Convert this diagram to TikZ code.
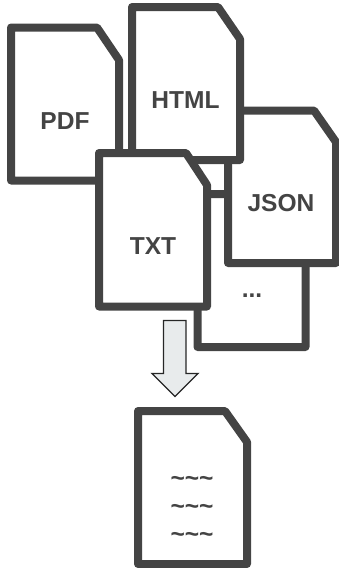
\documentclass[tikz,border=0pt]{standalone}
\usepackage{fontspec}
\setmainfont{Liberation Sans}
\definecolor{ink}{HTML}{444444}
\definecolor{arrowfill}{HTML}{E8EBEC}
\newcommand{\docshape}[6]{% left top right bottom chamferx chamfery
  \draw[docline] (#1,#2) -- (#5,#2) -- (#3,#6) -- (#3,#4) -- (#1,#4) -- cycle;}
\tikzset{
  docline/.style={draw=ink,fill=white,line width=6pt,line join=round},
  doclabel/.style={font=\fontsize{18.4}{22}\selectfont\bfseries,text=ink,inner sep=0pt,anchor=base},
  downarrow/.style={draw=black!85,fill=arrowfill,line width=1pt,line join=miter}
}
\begin{document}
\begin{tikzpicture}[x=0.75pt,y=-0.75pt]
\useasboundingbox (0,0) rectangle (339,568);
\docshape{197.5}{194}{305.5}{347}{283}{225}
\docshape{228}{110.5}{336}{263}{314}{142}
\docshape{11}{27.5}{119}{180.5}{97}{60}
\docshape{132}{7}{240}{160}{218}{39}
\docshape{99}{153}{207}{306.5}{186}{185}
\docshape{138}{411}{247}{564}{225}{442}
\draw[downarrow] (163.5,320.5) -- (186,320.5) -- (186,373.5) -- (198,373.5) -- (175,396.5) -- (152,373.5) -- (163.5,373.5) -- cycle;
\node[doclabel] (pdf) at (65,129.5) {PDF};
\node[doclabel] (html) at (185.5,108.5) {HTML};
\node[doclabel] (json) at (281,211) {JSON};
\node[doclabel] (txt) at (153,254.5) {TXT};
\node[doclabel] (more) at (252,297) {...};
\node[doclabel] (w1) at (192,486) {\char`\~\char`\~\char`\~};
\node[doclabel] (w2) at (192,514) {\char`\~\char`\~\char`\~};
\node[doclabel] (w3) at (192,542) {\char`\~\char`\~\char`\~};
\end{tikzpicture}
\end{document}
